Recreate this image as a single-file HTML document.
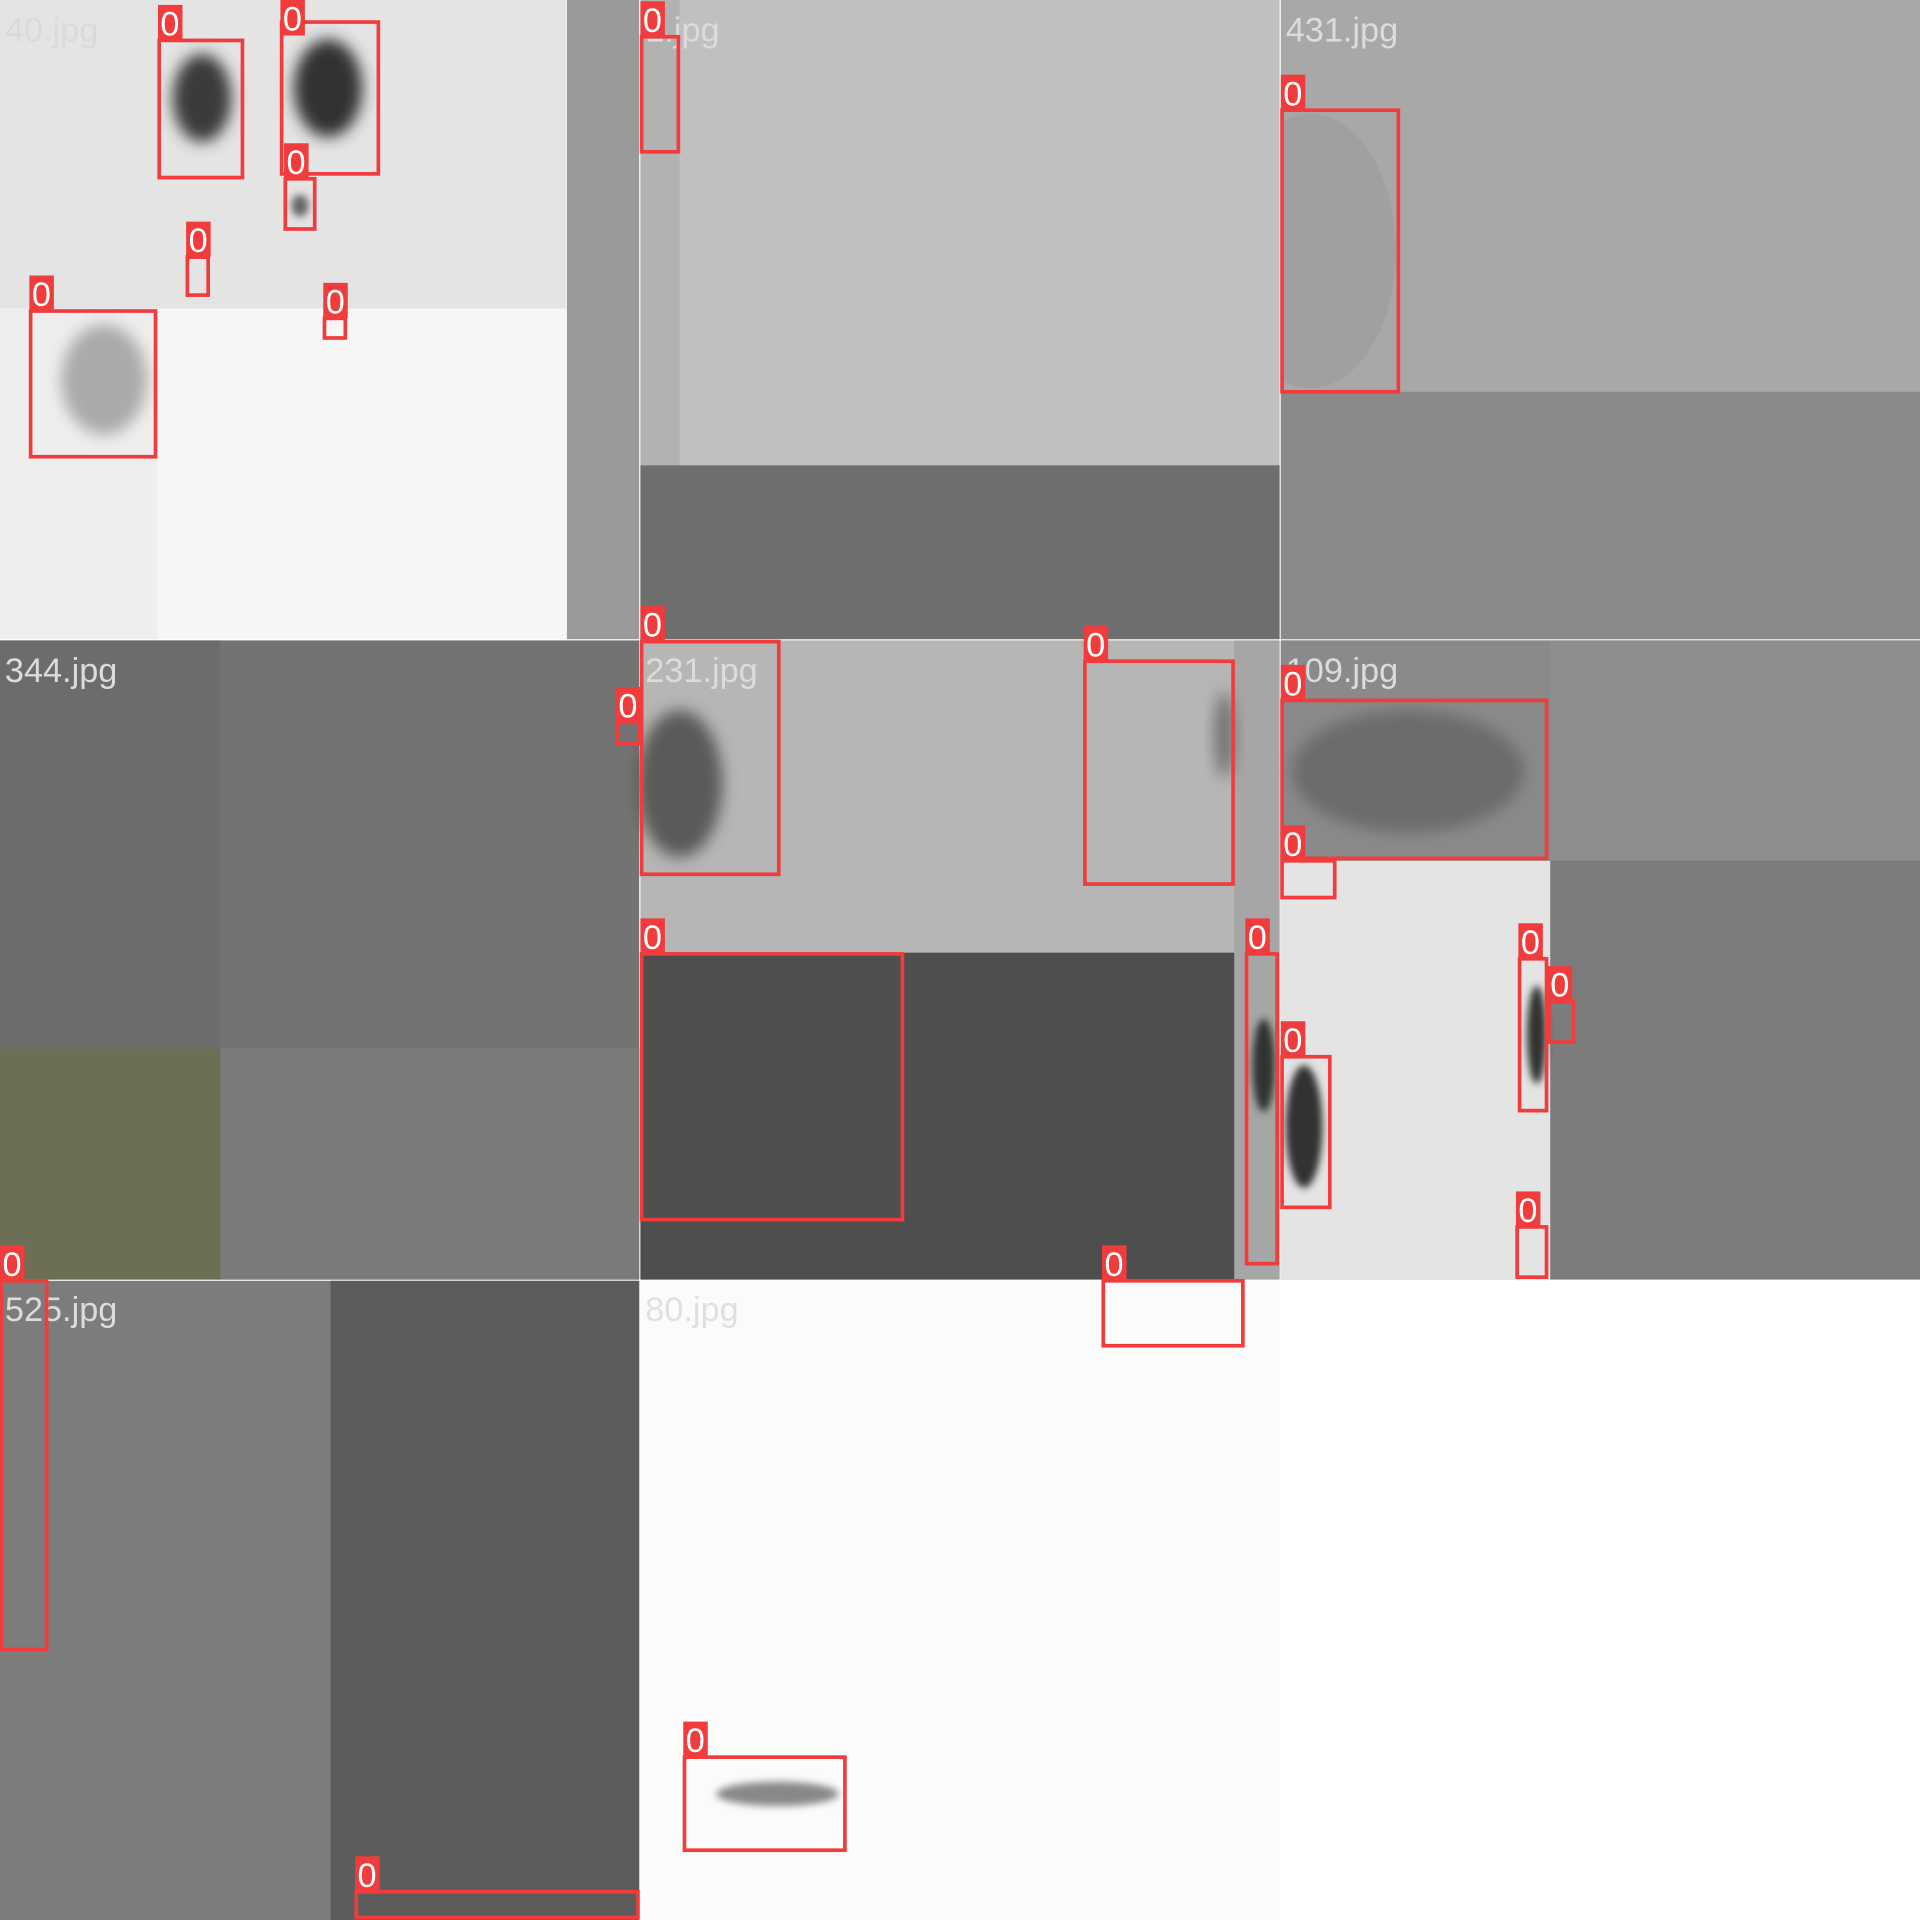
<!DOCTYPE html>
<html><head><meta charset="utf-8"><style>
html,body{margin:0;padding:0;background:#fff;}
svg{display:block;}
</style></head><body>
<svg id="mosaic" width="1920" height="1920" viewBox="0 0 1568 1568" xmlns="http://www.w3.org/2000/svg" font-family="Liberation Sans, sans-serif">
<defs>
<filter id="bl" x="-50%" y="-50%" width="200%" height="200%"><feGaussianBlur stdDeviation="6"/></filter>
<filter id="bl2" x="-50%" y="-50%" width="200%" height="200%"><feGaussianBlur stdDeviation="3"/></filter>
<clipPath id="c431"><rect x="1047" y="90" width="95" height="230"/></clipPath>
</defs>
<rect width="1568" height="1568" fill="#ffffff"/>
<g>
<rect x="0" y="0" width="522" height="522" fill="#f6f6f6"/>
<rect x="0" y="0" width="462" height="252" fill="#e4e4e4"/>
<rect x="0" y="252" width="128" height="270" fill="#eeeeee"/>
<rect x="463" y="0" width="59" height="522" fill="#9a9a9a"/>
<ellipse cx="165" cy="80" rx="24" ry="36" fill="#3a3a3a" filter="url(#bl)"/>
<ellipse cx="268" cy="72" rx="28" ry="40" fill="#303030" filter="url(#bl)"/>
<ellipse cx="245" cy="168" rx="7" ry="9" fill="#666" filter="url(#bl2)"/>
<ellipse cx="85" cy="310" rx="35" ry="45" fill="#aaa" filter="url(#bl)"/>
<text x="4" y="34" font-size="28" fill="#dadada">40.jpg</text>
</g>
<g>
<rect x="523" y="0" width="522" height="522" fill="#c0c0c0"/>
<rect x="523" y="0" width="32" height="380" fill="#b2b2b2"/>
<rect x="523" y="380" width="522" height="142" fill="#6e6e6e"/>
<text x="527" y="34" font-size="28" fill="#dcdcdc">1.jpg</text>
</g>
<g>
<rect x="1046" y="0" width="522" height="522" fill="#a8a8a8"/>
<rect x="1046" y="320" width="522" height="202" fill="#8a8a8a"/>
<ellipse cx="1070" cy="205" rx="70" ry="112" fill="#a0a0a0" clip-path="url(#c431)"/>
<text x="1050" y="34" font-size="28" fill="#dcdcdc">431.jpg</text>
</g>
<g>
<rect x="0" y="523" width="522" height="522" fill="#737373"/>
<rect x="0" y="523" width="180" height="333" fill="#6c6c6c"/>
<rect x="0" y="856" width="180" height="189" fill="#6c6f55"/>
<rect x="180" y="856" width="342" height="189" fill="#7a7a7a"/>
<text x="4" y="557" font-size="28" fill="#dcdcdc">344.jpg</text>
</g>
<g>
<rect x="523" y="523" width="522" height="522" fill="#b6b6b6"/>
<rect x="1008" y="523" width="37" height="522" fill="#a6a6a6"/>
<rect x="523" y="778" width="485" height="267" fill="#4e4e4e"/>
<ellipse cx="555" cy="640" rx="35" ry="60" fill="#5a5a5a" filter="url(#bl)"/>
<ellipse cx="1000" cy="600" rx="8" ry="35" fill="#707070" filter="url(#bl)"/>
<ellipse cx="1032" cy="870" rx="9" ry="38" fill="#333" filter="url(#bl2)"/>
<text x="527" y="557" font-size="28" fill="#dcdcdc">231.jpg</text>
</g>
<g>
<rect x="1046" y="523" width="522" height="522" fill="#7c7c7c"/>
<rect x="1046" y="523" width="220" height="180" fill="#8a8a8a"/>
<rect x="1266" y="523" width="302" height="180" fill="#8e8e8e"/>
<rect x="1046" y="703" width="220" height="342" fill="#e4e4e4"/>
<ellipse cx="1150" cy="630" rx="95" ry="50" fill="#6c6c6c" filter="url(#bl)"/>
<ellipse cx="1065" cy="920" rx="15" ry="50" fill="#333" filter="url(#bl2)"/>
<ellipse cx="1255" cy="845" rx="8" ry="40" fill="#333" filter="url(#bl2)"/>
<text x="1050" y="557" font-size="28" fill="#dcdcdc">109.jpg</text>
</g>
<g>
<rect x="0" y="1046" width="522" height="522" fill="#7c7c7c"/>
<rect x="270" y="1046" width="252" height="522" fill="#5c5c5c"/>
<text x="4" y="1079" font-size="28" fill="#dcdcdc">525.jpg</text>
</g>
<g>
<rect x="523" y="1046" width="522" height="522" fill="#fbfbfb"/>
<ellipse cx="635" cy="1465" rx="50" ry="10" fill="#888" filter="url(#bl2)"/>
<text x="527" y="1079" font-size="28" fill="#e0e0e0">80.jpg</text>
</g>
<g id="boxes"></g>
</svg>
<script>
const boxX1 = [130,230,233,153,25,265,524,1047,524,504,886,524,1018,1047,1047,1047,1241,1265,1239,1,291,901,559];
const boxY1 = [33,18,146,210,254,260,30,90,524,590,540,779,779,572,703,863,783,818,1002,1046,1545,1046,1435];
const boxX2 = [198,309,257,170,127,282,554,1142,636,522,1007,737,1043,1263,1090,1086,1263,1285,1263,38,521,1015,690];
const boxY2 = [145,142,187,241,373,276,124,320,714,607,722,996,1032,701,733,986,907,851,1043,1347,1566,1099,1511];
const classLabels = ["0","0","0","0","0","0","0","0","0","0","0","0","0","0","0","0","0","0","0","0","0","0","0"];
const NS = "http://www.w3.org/2000/svg";
const g = document.getElementById("boxes");
for (let i = 0; i < boxX1.length; i++) {
  const r = document.createElementNS(NS, "rect");
  r.setAttribute("x", boxX1[i]); r.setAttribute("y", boxY1[i]);
  r.setAttribute("width", boxX2[i] - boxX1[i]); r.setAttribute("height", boxY2[i] - boxY1[i]);
  r.setAttribute("fill", "none"); r.setAttribute("stroke", "#f03c3c"); r.setAttribute("stroke-width", "3");
  
  
  g.appendChild(r);
  const ly = Math.max(0, boxY1[i] - 29);
  const lb = document.createElementNS(NS, "rect");
  lb.setAttribute("x", boxX1[i] - 1); lb.setAttribute("y", ly);
  lb.setAttribute("width", 20); lb.setAttribute("height", 29);
  lb.setAttribute("fill", "#f03c3c");
  
  
  g.appendChild(lb);
  const t = document.createElementNS(NS, "text");
  t.setAttribute("x", boxX1[i] + 1); t.setAttribute("y", ly + 25);
  t.setAttribute("font-size", "28"); t.setAttribute("fill", "#ffffff");
  t.textContent = classLabels[i];
  
  
  g.appendChild(t);
}
</script>
</body></html>
